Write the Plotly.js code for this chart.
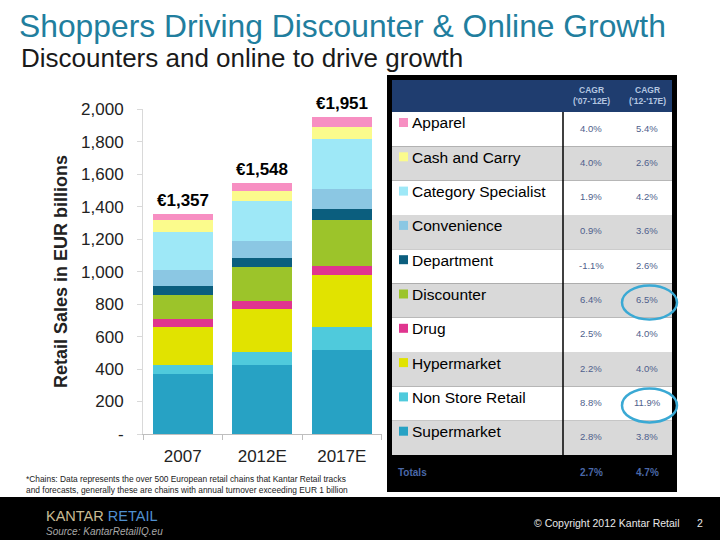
<!DOCTYPE html>
<html><head><meta charset="utf-8">
<script src="https://cdn.plot.ly/plotly-3.0.1.min.js"></script>
<style>html,body{margin:0;padding:0;background:#fff}</style>
</head><body><div id="chart" style="width:720px;height:540px"></div>
<script>
// ---------- data ----------
const years = ['2007', '2012E', '2017E'];
const supermarket = [370, 425, 517];
const nonStoreRetail = [55, 80, 142];
const hypermarket = [234, 265, 320];
const drug = [47, 51, 58];
const discounter = [150, 206, 281];
const department = [58, 55, 68];
const convenience = [96, 105, 125];
const categorySpecialist = [232, 248, 304];
const cashAndCarry = [74, 62, 76];
const apparel = [41, 51, 60];
const totals = [1357, 1548, 1951];
const totalLabels = ['€1,357', '€1,548', '€1,951'];

const tableCategories = ['Apparel', 'Cash and Carry', 'Category Specialist', 'Convenience', 'Department',
  'Discounter', 'Drug', 'Hypermarket', 'Non Store Retail', 'Supermarket'];
const cagr0712 = ['4.0%', '4.0%', '1.9%', '0.9%', '-1.1%', '6.4%', '2.5%', '2.2%', '8.8%', '2.8%'];
const cagr1217 = ['5.4%', '2.6%', '4.2%', '3.6%', '2.6%', '6.5%', '4.0%', '4.0%', '11.9%', '3.8%'];
const cagrTotals = ['2.7%', '4.7%'];
const cagrHeaders = ["CAGR<br>('07-'12E)", "CAGR<br>('12-'17E)"];
const highlighted = ['Discounter', 'Non Store Retail'];

const yTickVals = [0, 200, 400, 600, 800, 1000, 1200, 1400, 1600, 1800, 2000];
const yTickText = ['-', '200', '400', '600', '800', '1,000', '1,200', '1,400', '1,600', '1,800', '2,000'];

// ---------- style ----------
const FONT = 'Liberation Sans, Arial, sans-serif';
const colors = {
  'Supermarket': '#27a2c4',
  'Non Store Retail': '#4fcadc',
  'Hypermarket': '#e1e300',
  'Drug': '#e0358f',
  'Discounter': '#9cc42a',
  'Department': '#0b5e7e',
  'Convenience': '#8bc7e3',
  'Category Specialist': '#9ee8f7',
  'Cash and Carry': '#fbfb8c',
  'Apparel': '#f78fc2'
};
const stackSeries = [
  ['Supermarket', supermarket], ['Non Store Retail', nonStoreRetail], ['Hypermarket', hypermarket],
  ['Drug', drug], ['Discounter', discounter], ['Department', department], ['Convenience', convenience],
  ['Category Specialist', categorySpecialist], ['Cash and Carry', cashAndCarry], ['Apparel', apparel]
];

const W = 720, H = 540;
const px = x => x / W;
const py = y => 1 - y / H;

const traces = stackSeries.map(([name, vals]) => ({
  type: 'bar', name: name, x: years, y: vals,
  marker: {color: colors[name], line: {width: 0}},
  hoverinfo: 'name+y', showlegend: false
}));

const shapes = [];
const annotations = [];

// total labels (x given as category index so numeric-looking names are not misread)
years.forEach((yr, i) => {
  annotations.push({x: i, y: totals[i], xref: 'x', yref: 'y', text: '<b>' + totalLabels[i] + '</b>',
    showarrow: false, xanchor: 'center', yanchor: 'bottom', yshift: 2, font: {family: FONT, size: 17, color: '#000'}});
});

// y-axis title
annotations.push({xref: 'paper', yref: 'paper', x: px(61), y: py(272), xanchor: 'center', yanchor: 'middle',
  text: '<b>Retail Sales in EUR billions</b>', textangle: -90, showarrow: false,
  font: {family: FONT, size: 18, color: '#222'}});

// titles
annotations.push({xref: 'paper', yref: 'paper', x: px(17), y: py(26), xanchor: 'left', yanchor: 'middle',
  text: 'Shoppers Driving Discounter &amp; Online Growth', showarrow: false,
  font: {family: FONT, size: 31.8, color: '#217e9e'}});
annotations.push({xref: 'paper', yref: 'paper', x: px(19), y: py(57.5), xanchor: 'left', yanchor: 'middle',
  text: 'Discounters and online to drive growth', showarrow: false,
  font: {family: FONT, size: 26, color: '#1a1a1a'}});

// footnote
annotations.push({xref: 'paper', yref: 'paper', x: px(24), y: py(484), xanchor: 'left', yanchor: 'middle', align: 'left',
  text: '*Chains: Data represents the over 500 European retail chains that Kantar Retail tracks<br>and forecasts, generally these are chains with annual turnover exceeding EUR 1 billion',
  showarrow: false, font: {family: FONT, size: 8.4, color: '#222'}});

// ---------- table ----------
const TL = 387, TR = 677, TT = 75, TB = 492;
const inL = 392, inR = 672, headT = 80, headB = 112, rowH = 34.3;
const divX = 563, col1 = 591, col2 = 647;
shapes.push({type: 'rect', xref: 'paper', yref: 'paper', x0: px(TL), x1: px(TR), y0: py(TB), y1: py(TT),
  fillcolor: '#000', line: {width: 0}});
shapes.push({type: 'rect', xref: 'paper', yref: 'paper', x0: px(inL), x1: px(inR), y0: py(headB), y1: py(headT),
  fillcolor: '#1f3d6f', line: {width: 0}});
cagrHeaders.forEach((h, j) => {
  annotations.push({xref: 'paper', yref: 'paper', x: px(j ? col2 : col1), y: py(95), xanchor: 'center', yanchor: 'middle',
    text: '<b>' + h + '</b>', showarrow: false, align: 'center', font: {family: FONT, size: 8.5, color: '#b4c6e0'}});
});
tableCategories.forEach((cat, i) => {
  const top = headB + i * rowH, bot = top + rowH;
  shapes.push({type: 'rect', xref: 'paper', yref: 'paper', x0: px(inL), x1: px(inR), y0: py(bot), y1: py(top),
    fillcolor: i % 2 ? '#d9d9d9' : '#ffffff', line: {width: 0}});
  shapes.push({type: 'rect', xref: 'paper', yref: 'paper', x0: px(399), x1: px(408), y0: py(top + 15), y1: py(top + 6),
    fillcolor: colors[cat], line: {width: 0}});
  annotations.push({xref: 'paper', yref: 'paper', x: px(410), y: py(top + 11), xanchor: 'left', yanchor: 'middle',
    text: cat, showarrow: false, font: {family: FONT, size: 15.5, color: '#000'}});
  annotations.push({xref: 'paper', yref: 'paper', x: px(col1), y: py(top + 16), xanchor: 'center', yanchor: 'middle',
    text: cagr0712[i], showarrow: false, font: {family: FONT, size: 9.5, color: '#4f5f8c'}});
  annotations.push({xref: 'paper', yref: 'paper', x: px(col2), y: py(top + 16), xanchor: 'center', yanchor: 'middle',
    text: cagr1217[i], showarrow: false, font: {family: FONT, size: 9.5, color: '#4f5f8c'}});
});
const rowsEnd = headB + tableCategories.length * rowH;
shapes.push({type: 'line', xref: 'paper', yref: 'paper', x0: px(divX), x1: px(divX), y0: py(headB), y1: py(rowsEnd),
  line: {color: '#000', width: 1.5}});
annotations.push({xref: 'paper', yref: 'paper', x: px(396), y: py(472), xanchor: 'left', yanchor: 'middle',
  text: '<b>Totals</b>', showarrow: false, font: {family: FONT, size: 10, color: '#4a68a8'}});
cagrTotals.forEach((t, j) => {
  annotations.push({xref: 'paper', yref: 'paper', x: px(j ? col2 : col1), y: py(472), xanchor: 'center', yanchor: 'middle',
    text: '<b>' + t + '</b>', showarrow: false, font: {family: FONT, size: 10, color: '#4a68a8'}});
});
highlighted.forEach(cat => {
  const i = tableCategories.indexOf(cat);
  const top = headB + i * rowH;
  shapes.push({type: 'circle', xref: 'paper', yref: 'paper', x0: px(622), x1: px(677), y0: py(top + 36), y1: py(top + 2),
    line: {color: '#3aa9d4', width: 2.5}, fillcolor: 'rgba(0,0,0,0)'});
});

// ---------- footer ----------
shapes.push({type: 'rect', xref: 'paper', yref: 'paper', x0: 0, x1: 1, y0: 0, y1: py(497),
  fillcolor: '#000', line: {width: 0}});
annotations.push({xref: 'paper', yref: 'paper', x: px(44), y: py(516), xanchor: 'left', yanchor: 'middle',
  text: '<span style="color:#c9bc94">KANTAR</span> <span style="color:#4f8fcf">RETAIL</span>', showarrow: false,
  font: {family: FONT, size: 14.5, color: '#c9bc94'}});
annotations.push({xref: 'paper', yref: 'paper', x: px(44), y: py(531), xanchor: 'left', yanchor: 'middle',
  text: '<i>Source: KantarRetailIQ.eu</i>', showarrow: false, font: {family: FONT, size: 10, color: '#a8a8a8'}});
annotations.push({xref: 'paper', yref: 'paper', x: px(681), y: py(523), xanchor: 'right', yanchor: 'middle',
  text: '© Copyright 2012 Kantar Retail', showarrow: false, font: {family: FONT, size: 10.5, color: '#e8e8e8'}});
annotations.push({xref: 'paper', yref: 'paper', x: px(700), y: py(523), xanchor: 'center', yanchor: 'middle',
  text: '2', showarrow: false, font: {family: FONT, size: 10.5, color: '#e8e8e8'}});

const layout = {
  width: W, height: H,
  margin: {l: 0, r: 0, t: 0, b: 0, pad: 0},
  paper_bgcolor: '#fff', plot_bgcolor: '#fff',
  barmode: 'stack', bargap: 0.245,
  showlegend: false,
  font: {family: FONT, color: '#222'},
  xaxis: {
    domain: [px(143), px(381.5)], type: 'category', range: [-0.5, 2.5], autorange: false, fixedrange: true,
    showline: true, linecolor: '#bfbfbf', linewidth: 1,
    ticks: 'outside', tickson: 'boundaries', ticklen: 5, tickcolor: '#bfbfbf', tickangle: 0,
    ticklabelstandoff: 7,
    tickfont: {family: FONT, size: 17, color: '#222'}, showgrid: false
  },
  yaxis: {
    domain: [py(434), py(109.3)], range: [0, 2000], autorange: false, fixedrange: true,
    tickvals: yTickVals, ticktext: yTickText,
    showline: true, linecolor: '#d9d9d9', linewidth: 1,
    ticks: 'outside', ticklen: 5, tickcolor: '#d9d9d9', ticklabelstandoff: 10,
    showgrid: false, zeroline: false,
    tickfont: {family: FONT, size: 17, color: '#222'}
  },
  shapes: shapes,
  annotations: annotations
};

Plotly.newPlot('chart', traces, layout, {displayModeBar: false, staticPlot: true});
</script>
</body></html>
